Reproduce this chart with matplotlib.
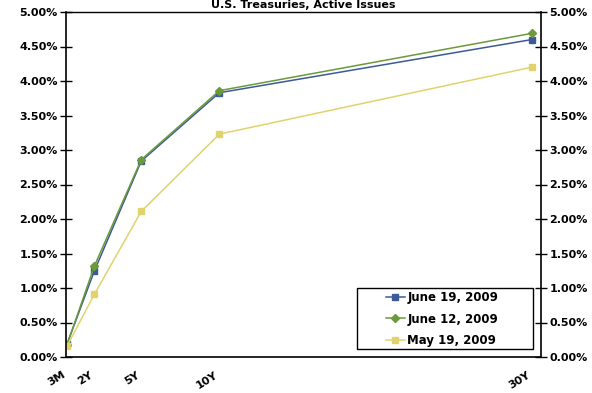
import matplotlib
matplotlib.use("Agg")
import matplotlib.pyplot as plt
from matplotlib.ticker import FuncFormatter, MultipleLocator
from matplotlib.patches import Rectangle
from matplotlib.transforms import ScaledTranslation

maturities = [0.25, 2, 5, 10, 30]
tick_labels = ["3M", "2Y", "5Y", "10Y", "30Y"]
june19 = [0.19, 1.25, 2.84, 3.83, 4.60]
june12 = [0.18, 1.32, 2.86, 3.86, 4.69]
may19 = [0.16, 0.91, 2.11, 3.23, 4.20]

plt.rcParams['font.family'] = ['DejaVu Sans']
W, H = 592, 393
fig = plt.figure(figsize=(W/100, H/100), dpi=100)
ax = fig.add_axes([66/W, 1-357/H, (541-66)/W, (357-12)/H])

c_blue = '#3C5A98'
c_green = '#6A9A3C'
c_yellow = '#E0D36C'

ax.plot(maturities, june19, color=c_blue, lw=1.1, marker='s', ms=5, label='June 19, 2009')
ax.plot(maturities, june12, color=c_green, lw=1.1, marker='D', ms=4, label='June 12, 2009')
ax.plot(maturities, may19, color=c_yellow, lw=1.1, marker='s', ms=5, label='May 19, 2009')

ax.set_xlim(0.18, 30.6)
ax.set_ylim(0, 5)
ax.yaxis.set_major_locator(MultipleLocator(0.5))
ax.yaxis.set_major_formatter(FuncFormatter(lambda v, p: f"{v:.2f}%"))
ax.tick_params(axis='y', which='both', direction='inout', length=8, width=1,
               labelsize=8, left=True, right=True, labelleft=True, labelright=True, pad=2)
for lab in ax.get_yticklabels():
    lab.set_fontweight('bold')

ax.set_xticks(maturities)
ax.set_xticklabels(tick_labels, rotation=32, ha='right', va='top', rotation_mode='anchor',
                   fontsize=8, fontweight='bold')
ax.tick_params(axis='x', length=0, pad=9)
offset = ScaledTranslation(-5/100, 0, fig.dpi_scale_trans)
for lab in ax.get_xticklabels():
    lab.set_transform(lab.get_transform() + offset)

for s in ax.spines.values():
    s.set_color('black')
    s.set_linewidth(1.0)
ax.spines['left'].set_linewidth(1.2)
ax.spines['right'].set_linewidth(1.2)
ax.spines['bottom'].set_linewidth(1.2)

box = Rectangle((357/W, 1-349/H), (533-357)/W, (349-288)/H,
                transform=fig.transFigure, fill=True, facecolor='white',
                edgecolor='black', linewidth=1.0, zorder=4, clip_on=False)
ax.add_patch(box)
leg = ax.legend(loc='center left', bbox_to_anchor=(386/W, 1-319/H), bbox_transform=fig.transFigure,
                frameon=False, prop={'weight': 'bold', 'size': 8.5}, handlelength=1.6,
                handletextpad=0.2, borderpad=0, labelspacing=0.7, borderaxespad=0)
leg.set_zorder(6)

fig.text(303/W, 1.0, "U.S. Treasuries, Active Issues", ha='center', va='top',
         fontsize=8, fontweight='bold')

fig.savefig('out.png', dpi=100)
